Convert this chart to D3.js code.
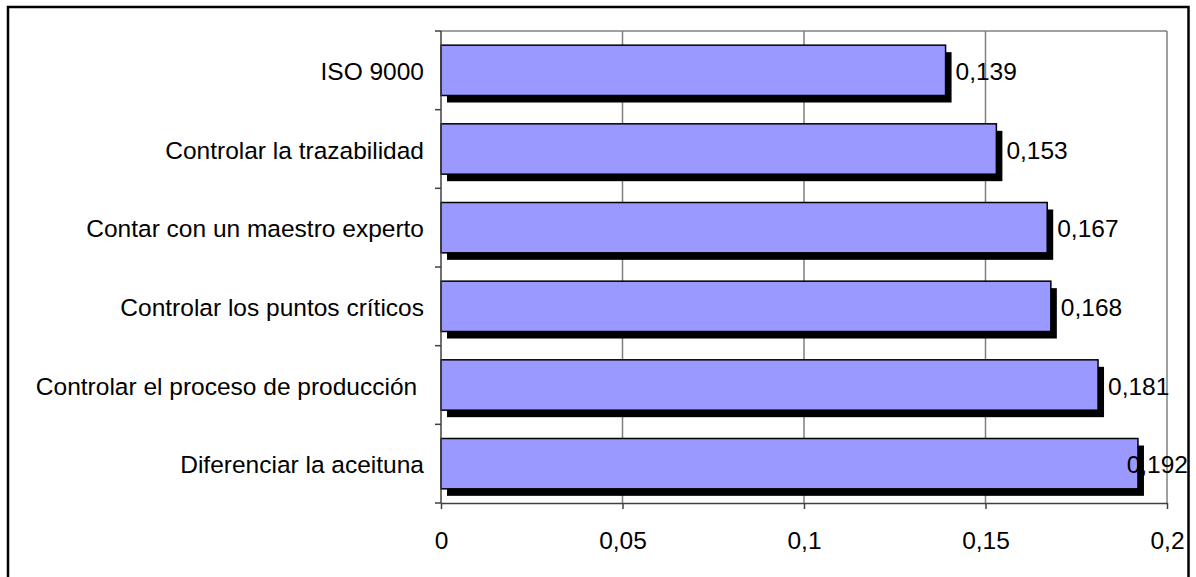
<!DOCTYPE html>
<html>
<head>
<meta charset="utf-8">
<script src="https://cdn.jsdelivr.net/npm/d3@7"></script>
<style>
  html, body { margin: 0; padding: 0; background: #fff; }
  svg { display: block; font-family: "Liberation Sans", Arial, sans-serif; }
  text { white-space: pre; }
</style>
</head>
<body>
<svg id="chart" width="1196" height="577"></svg>
<script>
// Factors, top to bottom
const categories = [
  "ISO 9000",
  "Controlar la trazabilidad",
  "Contar con un maestro experto",
  "Controlar los puntos críticos",
  "Controlar el proceso de producción ",
  "Diferenciar la aceituna"
];
const values = [0.139, 0.153, 0.167, 0.168, 0.181, 0.192];
const xTicks = [0, 0.05, 0.1, 0.15, 0.2];
const xTickLabels = ["0", "0,05", "0,1", "0,15", "0,2"];

const data = categories.map((c, i) => ({ cat: c, val: values[i] }));

const svg = d3.select("#chart");
const plot = { left: 441, top: 31, right: 1167, bottom: 503 };
const fontSize = 24.5;
const shadowDx = 6, shadowDy = 7;

// Outer chart frame
svg.append("rect")
  .attr("x", 8).attr("y", 7)
  .attr("width", 1180.5).attr("height", 600)
  .attr("fill", "#fff")
  .attr("stroke", "#000")
  .attr("stroke-width", 2.5);

const x = d3.scaleLinear().domain([0, 0.2]).range([plot.left, plot.right]);
const y = d3.scaleBand().domain(categories).range([plot.top, plot.bottom])
  .paddingInner(0.36).paddingOuter(0.18);
const yOuter = d3.scaleBand().domain(categories).range([plot.top, plot.bottom]);

// Vertical gridlines
svg.append("g")
  .selectAll("line")
  .data(xTicks.slice(1))
  .join("line")
  .attr("x1", d => x(d)).attr("x2", d => x(d))
  .attr("y1", plot.top).attr("y2", plot.bottom)
  .attr("stroke", "#808080")
  .attr("stroke-width", 1.5);

// Plot border top edge
svg.append("line")
  .attr("x1", plot.left).attr("x2", plot.right)
  .attr("y1", plot.top).attr("y2", plot.top)
  .attr("stroke", "#808080").attr("stroke-width", 1.5);

// Bars with drop shadow
const bars = svg.append("g");
bars.selectAll("rect.shadow")
  .data(data)
  .join("rect")
  .attr("class", "shadow")
  .attr("x", x(0) + shadowDx)
  .attr("y", d => y(d.cat) + shadowDy)
  .attr("width", d => x(d.val) - x(0))
  .attr("height", y.bandwidth())
  .attr("fill", "#000");

bars.selectAll("rect.bar")
  .data(data)
  .join("rect")
  .attr("class", "bar")
  .attr("x", x(0))
  .attr("y", d => y(d.cat))
  .attr("width", d => x(d.val) - x(0))
  .attr("height", y.bandwidth())
  .attr("fill", "#9999FF")
  .attr("stroke", "#000")
  .attr("stroke-width", 1.5);

// Y axis: band boundary ticks
const yAxis = svg.append("g");
yAxis.append("line")
  .attr("x1", plot.left).attr("x2", plot.left)
  .attr("y1", plot.top).attr("y2", plot.bottom)
  .attr("stroke", "#404040").attr("stroke-width", 1.5);
yAxis.selectAll("line.tick")
  .data(categories.map(c => yOuter(c)).concat([plot.bottom]))
  .join("line")
  .attr("class", "tick")
  .attr("x1", plot.left - 6).attr("x2", plot.left)
  .attr("y1", d => d).attr("y2", d => d)
  .attr("stroke", "#404040").attr("stroke-width", 1.5);
yAxis.selectAll("text")
  .data(categories)
  .join("text")
  .attr("x", plot.left - 17)
  .attr("y", d => yOuter(d) + yOuter.bandwidth() / 2 + 1)
  .attr("text-anchor", "end")
  .attr("dominant-baseline", "central")
  .attr("font-size", fontSize)
  .attr("fill", "#000")
  .text(d => d);

// X axis
const xAxis = svg.append("g").attr("transform", `translate(0,${plot.bottom})`)
  .call(d3.axisBottom(x).tickValues(xTicks)
    .tickFormat((d, i) => xTickLabels[i])
    .tickSize(6).tickSizeOuter(0).tickPadding(23));
xAxis.select(".domain").attr("stroke", "#404040").attr("stroke-width", 1.5);
xAxis.selectAll(".tick line").attr("stroke", "#404040").attr("stroke-width", 1.5);
xAxis.selectAll(".tick text")
  .attr("font-size", fontSize)
  .attr("font-family", "Liberation Sans, Arial, sans-serif")
  .attr("fill", "#000");

// Value labels
const frameRight = 1188;
const labels = svg.append("g");
labels.selectAll("text")
  .data(data)
  .join("text")
  .attr("y", d => y(d.cat) + y.bandwidth() / 2 + 1)
  .attr("dominant-baseline", "central")
  .attr("font-size", fontSize)
  .attr("fill", "#000")
  .text(d => d3.format(".3f")(d.val).replace(".", ","))
  .each(function (d) {
    const w = this.getComputedTextLength();
    const px = Math.min(x(d.val) + 10, frameRight - w);
    d3.select(this).attr("x", px);
  });
</script>
</body>
</html>
